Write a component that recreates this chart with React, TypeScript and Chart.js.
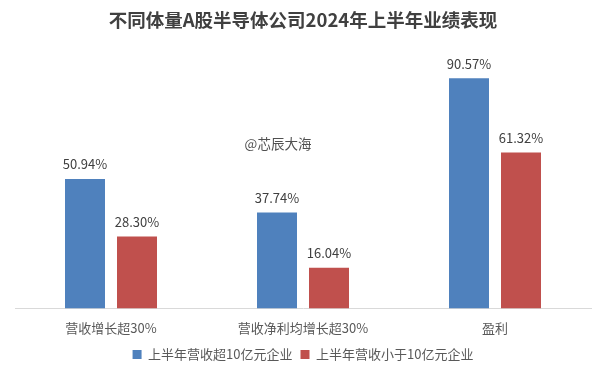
import React, { useEffect, useRef } from "react";
import { Chart, registerables } from "chart.js";

Chart.register(...registerables);

const categories = ["营收增长超30%", "营收净利均增长超30%", "盈利"];
const seriesNames = ["上半年营收超10亿元企业", "上半年营收小于10亿元企业"];
const seriesLarge = [50.94, 37.74, 90.57];
const seriesSmall = [28.3, 16.04, 61.32];
const titleText = "不同体量A股半导体公司2024年上半年业绩表现";
const watermark = "@芯辰大海";

const FONT = "'Noto Sans CJK SC', 'Microsoft YaHei', sans-serif";

const labelPlugin = {
  id: "valueLabels",
  afterDatasetsDraw(chart: any) {
    const ctx = chart.ctx;
    ctx.save();
    ctx.font = `13px ${FONT}`;
    ctx.fillStyle = "#404040";
    ctx.textAlign = "center";
    ctx.textBaseline = "bottom";
    chart.data.datasets.forEach((ds: any, i: number) => {
      const meta = chart.getDatasetMeta(i);
      meta.data.forEach((bar: any, j: number) => {
        ctx.fillText(ds.data[j].toFixed(2) + "%", bar.x, bar.y - 8);
      });
    });
    ctx.font = `13.5px ${FONT}`;
    ctx.fillStyle = "#505050";
    ctx.textBaseline = "middle";
    ctx.fillText(watermark, 278, 144);
    ctx.restore();
  },
};

export default function App() {
  const ref = useRef<HTMLCanvasElement>(null);
  useEffect(() => {
    if (!ref.current) return;
    const chart = new Chart(ref.current, {
      type: "bar",
      data: {
        labels: categories,
        datasets: [
          {
            label: seriesNames[0],
            data: seriesLarge,
            backgroundColor: "#4F81BD",
            categoryPercentage: 104 / 192,
            barPercentage: 40 / 52,
          },
          {
            label: seriesNames[1],
            data: seriesSmall,
            backgroundColor: "#C0504D",
            categoryPercentage: 104 / 192,
            barPercentage: 40 / 52,
          },
        ],
      },
      options: {
        animation: false,
        responsive: false,
        maintainAspectRatio: false,
        layout: { padding: { left: 15, right: 14, top: 0, bottom: 7 } },
        plugins: {
          title: {
            display: true,
            text: titleText,
            color: "#404040",
            font: { family: FONT, size: 18.5, weight: "bold" },
            padding: { top: 9, bottom: 23 },
          },
          legend: {
            position: "bottom",
            labels: {
              color: "#595959",
              font: { family: FONT, size: 13 },
              boxWidth: 9,
              boxHeight: 9,
              padding: 8,
            },
          },
          tooltip: { enabled: false },
        },
        scales: {
          x: {
            grid: { display: false },
            border: { display: true, color: "#D9D9D9", width: 1 },
            ticks: { color: "#595959", font: { family: FONT, size: 13 }, padding: 4 },
          },
          y: {
            display: false,
            min: 0,
            max: 100,
          },
        },
      },
      plugins: [labelPlugin],
    });
    return () => chart.destroy();
  }, []);
  return (
    <div style={{ position: "absolute", left: 0, top: 0, width: 605, height: 378, background: "#fff" }}>
      <canvas ref={ref} width={605} height={378} />
    </div>
  );
}
